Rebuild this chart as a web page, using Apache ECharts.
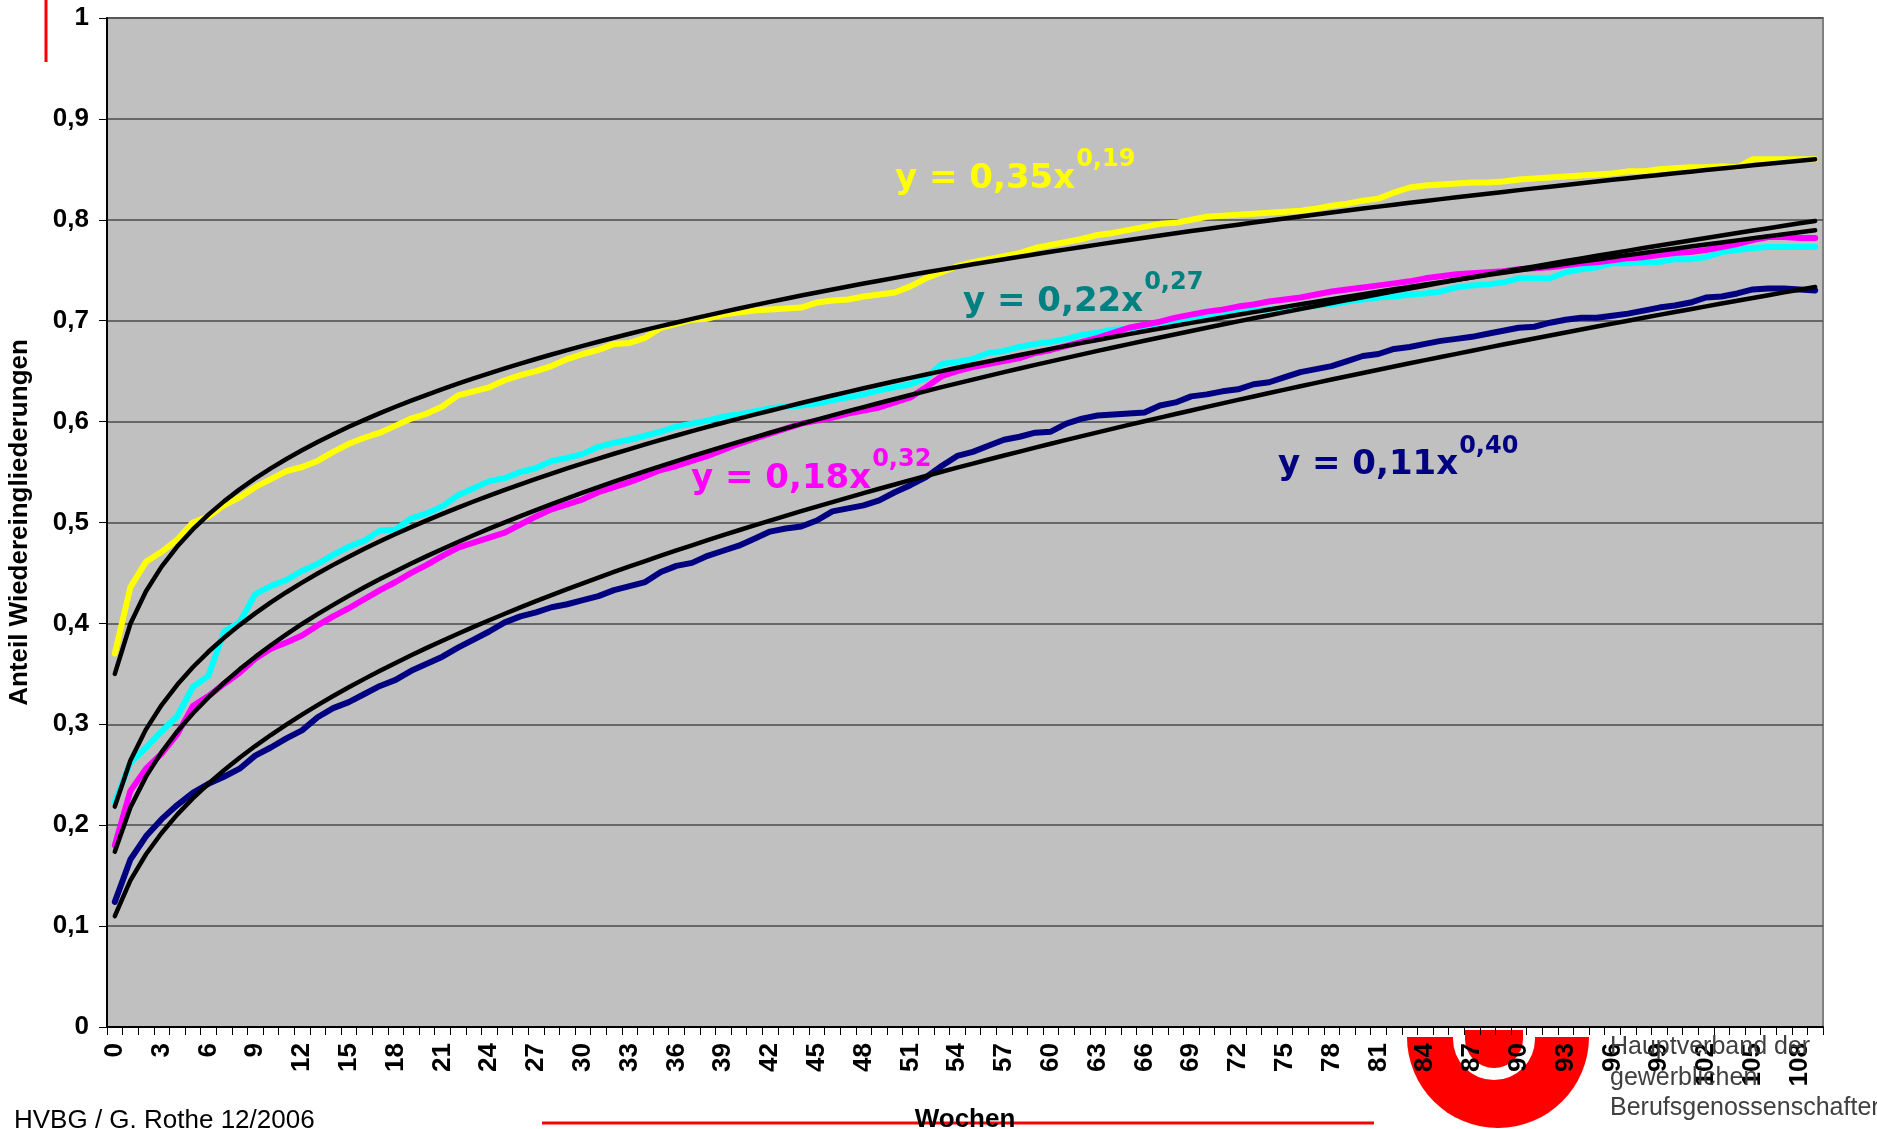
<!DOCTYPE html>
<html><head><meta charset="utf-8">
<script src="https://cdn.jsdelivr.net/npm/echarts@6/dist/echarts.min.js"></script>
<style>html,body{margin:0;padding:0;background:#fff}#c{width:1877px;height:1129px}</style>
</head><body><div id="c"></div>
<script>
// Wochen (categories)
const weeks = Array.from({length: 110}, (_, i) => String(i));
// y-axis tick values
const yTicks = [0, 0.1, 0.2, 0.3, 0.4, 0.5, 0.6, 0.7, 0.8, 0.9, 1];

const yellow = [0.370,0.436,0.461,0.471,0.483,0.500,0.506,0.517,0.525,0.535,0.543,0.551,0.555,0.561,0.570,0.578,0.584,0.589,0.596,0.603,
0.608,0.615,0.626,0.630,0.634,0.641,0.646,0.650,0.655,0.662,0.667,0.671,0.677,0.678,0.683,0.693,0.697,0.701,0.702,0.706,
0.708,0.710,0.711,0.712,0.713,0.718,0.720,0.721,0.724,0.726,0.728,0.734,0.742,0.748,0.754,0.758,0.761,0.764,0.767,0.772,
0.775,0.778,0.781,0.785,0.787,0.790,0.793,0.796,0.797,0.800,0.803,0.804,0.805,0.806,0.807,0.808,0.809,0.811,0.814,0.816,
0.819,0.821,0.827,0.832,0.834,0.835,0.836,0.837,0.837,0.838,0.840,0.841,0.842,0.843,0.844,0.845,0.846,0.848,0.848,0.850,
0.851,0.852,0.852,0.853,0.852,0.860,0.860,0.860,0.860,0.860];

const cyan = [0.223,0.262,0.277,0.293,0.308,0.337,0.348,0.392,0.401,0.429,0.437,0.443,0.452,0.459,0.468,0.476,0.482,0.492,0.493,0.504,
0.509,0.516,0.527,0.534,0.541,0.544,0.550,0.554,0.561,0.564,0.568,0.575,0.579,0.582,0.586,0.590,0.595,0.598,0.601,0.605,
0.607,0.610,0.613,0.615,0.616,0.618,0.621,0.624,0.627,0.631,0.634,0.637,0.643,0.657,0.659,0.662,0.668,0.670,0.674,0.677,
0.679,0.682,0.686,0.688,0.691,0.692,0.693,0.695,0.698,0.701,0.703,0.705,0.708,0.710,0.711,0.712,0.713,0.715,0.716,0.719,
0.721,0.723,0.724,0.726,0.727,0.729,0.733,0.735,0.736,0.738,0.742,0.742,0.742,0.748,0.751,0.753,0.757,0.757,0.758,0.758,
0.761,0.761,0.763,0.768,0.770,0.772,0.773,0.773,0.773,0.773];

const magenta = [0.180,0.234,0.256,0.271,0.290,0.318,0.328,0.340,0.351,0.365,0.375,0.381,0.388,0.398,0.407,0.415,0.424,0.433,0.441,0.450,
0.458,0.467,0.475,0.480,0.485,0.490,0.498,0.506,0.513,0.518,0.523,0.530,0.535,0.540,0.546,0.552,0.556,0.561,0.566,0.572,
0.578,0.583,0.588,0.593,0.598,0.601,0.604,0.608,0.611,0.614,0.619,0.624,0.634,0.645,0.650,0.654,0.657,0.660,0.663,0.668,
0.671,0.675,0.679,0.683,0.688,0.693,0.696,0.699,0.703,0.706,0.709,0.711,0.714,0.716,0.719,0.721,0.723,0.726,0.729,0.731,
0.733,0.735,0.737,0.739,0.742,0.744,0.746,0.747,0.748,0.749,0.751,0.752,0.753,0.755,0.757,0.758,0.760,0.762,0.763,0.765,
0.767,0.768,0.770,0.773,0.776,0.780,0.783,0.783,0.782,0.782];

const navy = [0.124,0.166,0.189,0.206,0.220,0.232,0.241,0.248,0.256,0.269,0.277,0.286,0.294,0.307,0.316,0.322,0.330,0.338,0.344,0.353,
0.360,0.367,0.376,0.384,0.392,0.401,0.407,0.411,0.416,0.419,0.423,0.427,0.433,0.437,0.441,0.451,0.457,0.460,0.467,0.472,
0.477,0.484,0.491,0.494,0.496,0.502,0.511,0.514,0.517,0.522,0.530,0.537,0.545,0.556,0.566,0.570,0.576,0.582,0.585,0.589,
0.590,0.598,0.603,0.606,0.607,0.608,0.609,0.616,0.619,0.625,0.627,0.630,0.632,0.637,0.639,0.644,0.649,0.652,0.655,0.660,
0.665,0.667,0.672,0.674,0.677,0.680,0.682,0.684,0.687,0.690,0.693,0.694,0.698,0.701,0.703,0.703,0.705,0.707,0.710,0.713,
0.715,0.718,0.723,0.724,0.727,0.731,0.732,0.732,0.731,0.730];

const equations = [
  {main: 'y = 0,35x', sup: '0,19', color: '#FFFF00'},
  {main: 'y = 0,22x', sup: '0,27', color: '#008080'},
  {main: 'y = 0,18x', sup: '0,32', color: '#FF00FF'},
  {main: 'y = 0,11x', sup: '0,40', color: '#000080'}
];

// Excel-style power trendline (least squares on ln y vs ln x, x = 1..n)
function powerFit(vals) {
  let n = vals.length, sx = 0, sy = 0, sxx = 0, sxy = 0;
  vals.forEach((v, i) => { const lx = Math.log(i + 1), ly = Math.log(v); sx += lx; sy += ly; sxx += lx * lx; sxy += lx * ly; });
  const b = (n * sxy - sx * sy) / (n * sxx - sx * sx);
  const a = Math.exp((sy - b * sx) / n);
  return vals.map((_, i) => +(a * Math.pow(i + 1, b)).toFixed(5));
}

const chart = echarts.init(document.getElementById('c'), null, {renderer: 'canvas'});

const ctx = document.createElement('canvas').getContext('2d');
function tw(text, font) { ctx.font = font; return ctx.measureText(text).width; }
const mainFont = 'bold 34px "DejaVu Sans"';
const supFont = 'bold 24px "DejaVu Sans"';
// [left, top of main text, top of superscript]
const eqPos = [[895, 162, 148], [963, 285, 271], [691, 462, 448], [1278, 448, 435]];
const eqGraphics = [];
equations.forEach((e, k) => {
  const [x, y, ys] = eqPos[k];
  eqGraphics.push({type: 'text', x: x, y: y, z: 50, style: {text: e.main, font: mainFont, fill: e.color, verticalAlign: 'top'}});
  eqGraphics.push({type: 'text', x: x + tw(e.main, mainFont) + 1, y: ys, z: 50, style: {text: e.sup, font: supFont, fill: e.color, verticalAlign: 'top'}});
});

const lineSeries = (data, color, w, z) => ({
  type: 'line', data: data, symbol: 'none', z: z,
  lineStyle: {color: color, width: w, cap: 'round', join: 'round'},
  emphasis: {disabled: true}
});

chart.setOption({
  animation: false,
  grid: {left: 107, right: 54, top: 18, bottom: 102, show: true, backgroundColor: '#C0C0C0', borderColor: '#808080', borderWidth: 2, outerBoundsMode: 'none'},
  xAxis: {
    type: 'category', data: weeks, boundaryGap: true,
    axisLine: {lineStyle: {color: '#000', width: 2}},
    axisTick: {show: true, interval: 0, length: 8, lineStyle: {color: '#000', width: 1}},
    axisLabel: {interval: 2, rotate: 90, margin: 16, color: '#000', fontFamily: 'Liberation Sans', fontWeight: 'bold', fontSize: 26},
    splitLine: {show: false}
  },
  yAxis: {
    type: 'value', min: yTicks[0], max: yTicks[yTicks.length - 1], interval: 0.1,
    name: 'Anteil Wiedereingliederungen', nameLocation: 'middle', nameGap: 74, nameRotate: 90,
    nameTextStyle: {color: '#000', fontFamily: 'Liberation Sans', fontWeight: 'bold', fontSize: 26},
    axisLine: {show: true, lineStyle: {color: '#000', width: 2}},
    axisTick: {show: true, length: 8, lineStyle: {color: '#000'}},
    axisLabel: {margin: 18, color: '#000', fontFamily: 'Liberation Sans', fontWeight: 'bold', fontSize: 26,
      formatter: v => String(Math.round(v * 10) / 10).replace('.', ',')},
    splitLine: {show: true, lineStyle: {color: '#4a4a4a', width: 1.5}}
  },
  series: [
    lineSeries(yellow, '#FFFF00', 6, 2),
    lineSeries(cyan, '#00FFFF', 6, 2),
    lineSeries(magenta, '#FF00FF', 6, 2),
    lineSeries(navy, '#000080', 6, 2),
    lineSeries(powerFit(yellow), '#000000', 4.5, 3),
    lineSeries(powerFit(cyan), '#000000', 4.5, 3),
    lineSeries(powerFit(magenta), '#000000', 4.5, 3),
    lineSeries(powerFit(navy), '#000000', 4.5, 3)
  ],
  graphic: [
    {type: 'line', z: 1, shape: {x1: 46, y1: 0, x2: 46, y2: 62}, style: {stroke: '#FF0000', lineWidth: 3}},
    {type: 'line', z: 1, shape: {x1: 542, y1: 1123, x2: 1374, y2: 1123}, style: {stroke: '#FF0000', lineWidth: 3}},
    {type: 'sector', z: -10, shape: {cx: 1498, cy: 1037, r: 91, r0: 0, startAngle: 0, endAngle: Math.PI, clockwise: true}, style: {fill: '#FF0000'}},
    {type: 'rect', z: -9, shape: {x: 1453, y: 1030, width: 82, height: 10}, style: {fill: '#FFFFFF'}},
    {type: 'sector', z: -9, shape: {cx: 1494, cy: 1039, r: 41, r0: 0, startAngle: 0, endAngle: Math.PI, clockwise: true}, style: {fill: '#FFFFFF'}},
    {type: 'rect', z: -8, shape: {x: 1465, y: 1030, width: 58, height: 10}, style: {fill: '#FF0000'}},
    {type: 'sector', z: -8, shape: {cx: 1494, cy: 1039, r: 29, r0: 0, startAngle: 0, endAngle: Math.PI, clockwise: true}, style: {fill: '#FF0000'}},
    {type: 'text', z: 1, x: 1610, y: 1035, style: {text: 'Hauptverband der', font: '25px "Liberation Sans"', fill: '#404040', verticalAlign: 'top'}},
    {type: 'text', z: 1, x: 1610, y: 1066, style: {text: 'gewerblichen', font: '25px "Liberation Sans"', fill: '#404040', verticalAlign: 'top'}},
    {type: 'text', z: 1, x: 1610, y: 1096, style: {text: 'Berufsgenossenschaften', font: '25px "Liberation Sans"', fill: '#404040', verticalAlign: 'top'}},
    {type: 'text', z: 2, x: 14, y: 1108, style: {text: 'HVBG / G. Rothe 12/2006', font: '26px "Liberation Sans"', fill: '#000', verticalAlign: 'top'}},
    {type: 'text', z: 2, x: 965, y: 1107, style: {text: 'Wochen', font: 'bold 26px "Liberation Sans"', fill: '#000', align: 'center', verticalAlign: 'top'}}
  ].concat(eqGraphics)
});
</script></body></html>
